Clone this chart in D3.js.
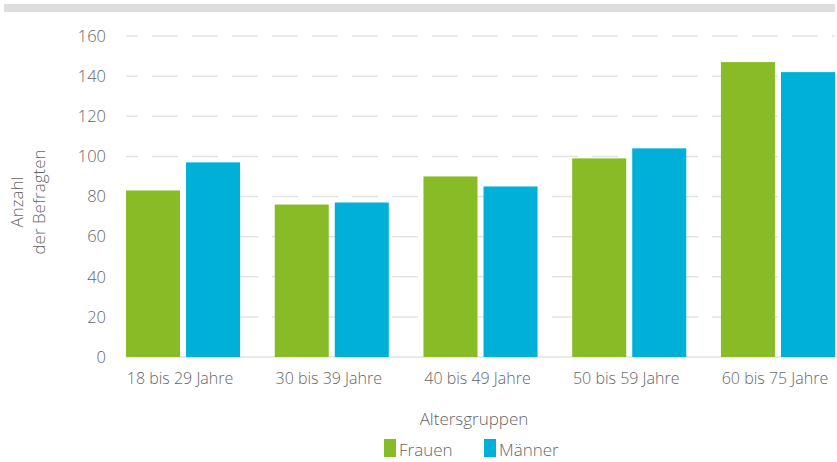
<!DOCTYPE html>
<html>
<head>
<meta charset="utf-8">
<script src="https://cdn.jsdelivr.net/npm/d3@7"></script>
<style>
  body { margin: 0; background: #fff; }
  text { font-family: "Open Sans", "Noto Sans", sans-serif; fill: #666; font-weight: 300; }
</style>
</head>
<body>
<div id="chart"></div>
<script>
const categories = ["18 bis 29 Jahre", "30 bis 39 Jahre", "40 bis 49 Jahre", "50 bis 59 Jahre", "60 bis 75 Jahre"];
const seriesNames = ["Frauen", "Männer"];
const frauen = [83, 76, 90, 99, 147];
const maenner = [97, 77, 85, 104, 142];
const yTicks = [0, 20, 40, 60, 80, 100, 120, 140, 160];

const colors = { "Frauen": "#88bc27", "Männer": "#00b0d9" };

const W = 837, H = 462;
const plot = { left: 126, right: 835, top: 36, bottom: 357 };

const svg = d3.select('#chart')
    .append('svg')
    .attr('width', W)
    .attr('height', H);

// grey strip at the top
svg.append('rect')
    .attr('x', 4).attr('y', 4)
    .attr('width', 831).attr('height', 8)
    .attr('fill', '#dedede');

const data = categories.map((c, i) => ({ cat: c, Frauen: frauen[i], "Männer": maenner[i] }));

const x0 = d3.scaleBand()
    .domain(categories)
    .range([plot.left, plot.right])
    .paddingInner(0.233)
    .paddingOuter(0);

const x1 = d3.scaleBand()
    .domain(seriesNames)
    .range([0, x0.bandwidth()])
    .paddingInner(0.1);

const y = d3.scaleLinear()
    .domain([0, 160])
    .range([plot.bottom, plot.top]);

// grid lines
svg.append('g')
    .selectAll('line')
    .data(yTicks.filter(d => d > 0))
    .join('line')
    .attr('x1', plot.left).attr('x2', plot.right)
    .attr('y1', d => y(d)).attr('y2', d => y(d))
    .attr('stroke', '#e3e3e3')
    .attr('stroke-width', 1.5)
    .attr('stroke-dasharray', '26,14')
    .attr('stroke-dashoffset', 14);

svg.append('line')
    .attr('x1', plot.left).attr('x2', plot.right)
    .attr('y1', y(0)).attr('y2', y(0))
    .attr('stroke', '#e3e3e3')
    .attr('stroke-width', 1.5);

// y tick labels
svg.append('g')
    .selectAll('text')
    .data(yTicks)
    .join('text')
    .attr('x', 106)
    .attr('y', d => y(d))
    .attr('dy', '0.35em')
    .attr('text-anchor', 'end')
    .style('font-size', '16.5px')
    .text(d => d);

// bars
svg.append('g')
    .selectAll('g')
    .data(data)
    .join('g')
    .attr('transform', d => `translate(${x0(d.cat)},0)`)
    .selectAll('rect')
    .data(d => seriesNames.map(s => ({ key: s, value: d[s] })))
    .join('rect')
    .attr('x', d => x1(d.key))
    .attr('y', d => y(d.value))
    .attr('width', x1.bandwidth())
    .attr('height', d => y(0) - y(d.value))
    .attr('fill', d => colors[d.key]);

// x labels
svg.append('g')
    .selectAll('text')
    .data(categories)
    .join('text')
    .attr('x', d => x0(d) + x0.bandwidth() / 2 - 3)
    .attr('y', 384)
    .attr('text-anchor', 'middle')
    .style('font-size', '16px')
    .text(d => d);

// axis titles
svg.append('text')
    .attr('x', 474)
    .attr('y', 425)
    .attr('text-anchor', 'middle')
    .style('font-size', '17px')
    .text('Altersgruppen');

const yTitle = svg.append('text')
    .attr('transform', 'translate(23,202) rotate(-90)')
    .attr('text-anchor', 'middle')
    .style('font-size', '17px');
yTitle.append('tspan').attr('x', 0).attr('dy', 0).text('Anzahl');
yTitle.append('tspan').attr('x', 0).attr('dy', '1.3em').text('der Befragten');

// legend
const legendX = [384, 484];
const legend = svg.append('g')
    .selectAll('g')
    .data(seriesNames)
    .join('g')
    .attr('transform', (d, i) => `translate(${legendX[i]},439)`);

legend.append('rect')
    .attr('width', 12)
    .attr('height', 18)
    .attr('fill', d => colors[d]);

legend.append('text')
    .attr('x', 15)
    .attr('y', 17)
    .style('font-size', '17px')
    .text(d => d);
</script>
</body>
</html>
